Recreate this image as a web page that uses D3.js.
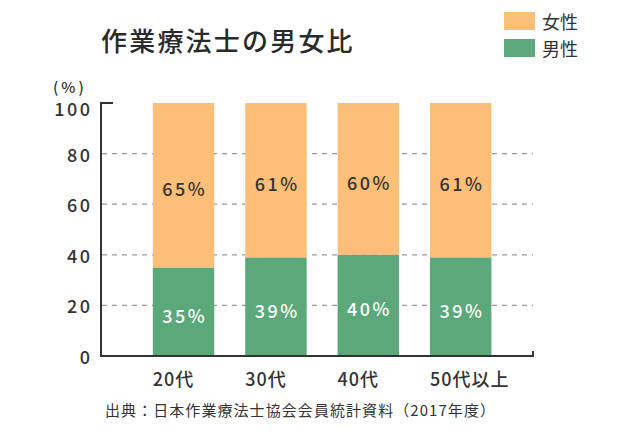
<!DOCTYPE html>
<html>
<head>
<meta charset="utf-8">
<script src="https://cdn.jsdelivr.net/npm/d3@7"></script>
<style>
  html, body { margin: 0; padding: 0; background: #fff; }
  svg { display: block; font-family: "Noto Sans CJK JP", "Noto Sans", sans-serif; }
</style>
</head>
<body>
<svg id="chart" width="640" height="439"></svg>
<script>
const categories = ["20代", "30代", "40代", "50代以上"];
const maleValues = [35, 39, 40, 39];
const femaleValues = [65, 61, 60, 61];
const yTicks = [0, 20, 40, 60, 80, 100];
const seriesNames = ["女性", "男性"];
const titleText = "作業療法士の男女比";
const sourceText = "出典：日本作業療法士協会会員統計資料（2017年度）";

const colors = { female: "#FDBE78", male: "#5BA87A" };
const textColor = "#333333";

const svg = d3.select("#chart");

const x = d3.scaleBand()
  .domain(categories)
  .range([102, 533])
  .paddingInner(0.335)
  .paddingOuter(0.5)
  .align(0.55);

const y = d3.scaleLinear().domain([0, 100]).range([356, 103]);

// gridlines
svg.append("g").selectAll("line")
  .data(yTicks.filter(d => d > 0 && d < 100))
  .join("line")
  .attr("x1", 102).attr("x2", 533)
  .attr("y1", d => y(d)).attr("y2", d => y(d))
  .attr("stroke", "#9a9a9a").attr("stroke-width", 1.2)
  .attr("stroke-dasharray", "5,5");

const data = categories.map((c, i) => ({ cat: c, male: maleValues[i], female: femaleValues[i] }));

// bars
const bars = svg.append("g");
bars.selectAll("rect.male").data(data).join("rect")
  .attr("class", "male")
  .attr("x", d => x(d.cat)).attr("width", x.bandwidth())
  .attr("y", d => y(d.male)).attr("height", d => y(0) - y(d.male))
  .attr("fill", colors.male);
bars.selectAll("rect.female").data(data).join("rect")
  .attr("class", "female")
  .attr("x", d => x(d.cat)).attr("width", x.bandwidth())
  .attr("y", d => y(d.male + d.female)).attr("height", d => y(d.male) - y(d.male + d.female))
  .attr("fill", colors.female);

// value labels
const labelSpacing = 2.5;
bars.selectAll("text.fl").data(data).join("text")
  .attr("x", d => x(d.cat) + x.bandwidth() / 2 + labelSpacing / 2)
  .attr("y", d => y(d.male + d.female / 2) + 3)
  .attr("text-anchor", "middle").attr("dominant-baseline", "central")
  .attr("font-size", 18).attr("font-weight", 500).attr("letter-spacing", labelSpacing)
  .attr("fill", textColor)
  .text(d => d.female + "%");
bars.selectAll("text.ml").data(data).join("text")
  .attr("x", d => x(d.cat) + x.bandwidth() / 2 + labelSpacing / 2)
  .attr("y", d => y(d.male / 2) + 3)
  .attr("text-anchor", "middle").attr("dominant-baseline", "central")
  .attr("font-size", 18).attr("font-weight", 500).attr("letter-spacing", labelSpacing)
  .attr("fill", "#ffffff")
  .text(d => d.male + "%");

// axes lines
const axisG = svg.append("g").attr("stroke", "#333").attr("stroke-width", 2).attr("fill", "none");
axisG.append("path").attr("d", `M113,${y(100)}H101V${y(0)}H533V${y(0) - 5}`);

// y tick labels
svg.append("g").selectAll("text").data(yTicks).join("text")
  .attr("x", 92.5)
  .attr("y", d => y(d) + (d === 100 ? 5 : 0))
  .attr("text-anchor", "end").attr("dominant-baseline", "central")
  .attr("font-size", 18).attr("font-weight", 500).attr("letter-spacing", 2.5)
  .attr("fill", textColor)
  .text(d => d);

svg.append("text")
  .attr("x", 53).attr("y", 86)
  .attr("dominant-baseline", "central")
  .attr("font-size", 15).attr("font-weight", 500).attr("letter-spacing", 3)
  .attr("fill", textColor)
  .text("(%)");

// x labels
svg.append("g").selectAll("text").data(categories).join("text")
  .attr("x", d => x(d))
  .attr("y", 378)
  .attr("dominant-baseline", "central")
  .attr("font-size", 18).attr("font-weight", 500).attr("letter-spacing", 1)
  .attr("fill", textColor)
  .text(d => d);

// title
svg.append("text")
  .attr("x", 101).attr("y", 39)
  .attr("dominant-baseline", "central")
  .attr("font-size", 26).attr("font-weight", 500).attr("letter-spacing", 2.2)
  .attr("fill", "#2a2a2a")
  .text(titleText);

// legend
const legendColors = [colors.female, colors.male];
const leg = svg.append("g");
seriesNames.forEach((name, i) => {
  leg.append("rect")
    .attr("x", 504).attr("y", 12 + i * 27).attr("width", 31).attr("height", 18)
    .attr("fill", legendColors[i]);
  leg.append("text")
    .attr("x", 542).attr("y", 21 + i * 27)
    .attr("dominant-baseline", "central")
    .attr("font-size", 18).attr("fill", textColor)
    .text(name);
});

// source
svg.append("text")
  .attr("x", 105).attr("y", 409)
  .attr("dominant-baseline", "central")
  .attr("font-size", 15).attr("fill", textColor)
  .attr("textLength", 390).attr("lengthAdjust", "spacing")
  .text(sourceText);
</script>
</body>
</html>
